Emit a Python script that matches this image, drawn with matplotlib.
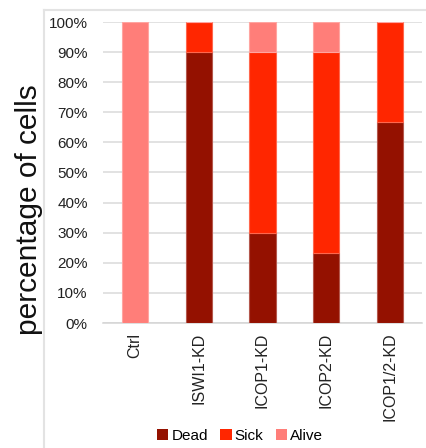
import numpy as np
import matplotlib
matplotlib.use("Agg")
import matplotlib.pyplot as plt
from matplotlib.lines import Line2D
from matplotlib.patches import Patch
from matplotlib.colors import to_rgb

plt.rcParams["font.family"] = ["Liberation Sans", "DejaVu Sans"]

categories = ["Ctrl", "ISWI1-KD", "ICOP1-KD", "ICOP2-KD", "ICOP1/2-KD"]
dead = [0.0, 90.0, 30.0, 23.3, 66.7]
sick = [0.0, 10.0, 60.0, 66.7, 33.3]
alive = [100.0, 0.0, 10.0, 10.0, 0.0]

series = [("Dead", dead, "#941100"), ("Sick", sick, "#FF2600"), ("Alive", alive, "#FF7E79")]


def lighten(c, f=0.3):
    r, g, b = to_rgb(c)
    return (r + (1 - r) * f, g + (1 - g) * f, b + (1 - b) * f)


fig = plt.figure(figsize=(4.26, 4.48), dpi=100)
ax = fig.add_axes([103 / 426, 1 - 323 / 448, 319 / 426, 301 / 448])

x = np.arange(len(categories))
bottom = np.zeros(len(categories))
for name, vals, col in series:
    vals = np.array(vals)
    ax.bar(x, vals, width=0.41, bottom=bottom, color=col,
           edgecolor=lighten(col), linewidth=0.8, label=name, zorder=3)
    bottom += vals

ax.set_xlim(-0.5, len(categories) - 0.5)
ax.set_ylim(0, 100)
ax.set_yticks(np.arange(0, 101, 10))
ax.set_yticklabels(["{}%".format(v) for v in range(0, 101, 10)], fontsize=11, color="#222222")
ax.set_xticks(x)
ax.set_xticklabels(categories, rotation=90, fontsize=11.5, color="#222222")
ax.tick_params(axis="y", length=0, pad=11)
ax.tick_params(axis="x", length=0, pad=7)
ax.yaxis.grid(True, color="#DADADA", linewidth=1.1, zorder=0)
for s in ["top", "right", "left"]:
    ax.spines[s].set_visible(False)
ax.spines["bottom"].set_color("#D4D4D4")
ax.spines["bottom"].set_linewidth(1.1)

fig.text(29 / 426, 1 - 210 / 448, "percentage of cells", rotation=90,
         ha="center", va="center", fontsize=21.5, color="#111111")

handles = [Patch(facecolor=c, edgecolor="none") for _, _, c in series]
fig.legend(handles, [n for n, _, _ in series], loc="center",
           bbox_to_anchor=(240 / 426, 1 - 436 / 448), ncol=3, frameon=False,
           fontsize=11, handlelength=0.75, handleheight=0.75,
           handletextpad=0.2, columnspacing=0.8)

# outer frame
fig.add_artist(Line2D([44 / 426, 1], [1 - 10 / 448] * 2, transform=fig.transFigure,
                      color="#E3E3E3", linewidth=1.5))
fig.add_artist(Line2D([44 / 426] * 2, [0, 1 - 10 / 448], transform=fig.transFigure,
                      color="#E3E3E3", linewidth=1.5))

fig.savefig("out.png", dpi=100)
